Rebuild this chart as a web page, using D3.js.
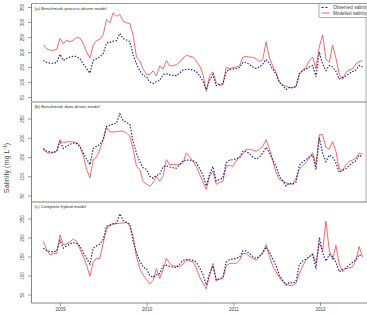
<!DOCTYPE html>
<html><head><meta charset="utf-8">
<script src="https://cdn.jsdelivr.net/npm/d3@7"></script>
<style>body{margin:0;background:#fff;}svg{display:block;font-family:"Liberation Sans",Arial,sans-serif;}</style>
</head><body>
<svg id="c" width="367" height="314"></svg>
<script>
// Biweekly sampling dates (category axis)
const startDate = "2008-10-23";
const stepDays = 14;
const yearTicks = ["2009", "2010", "2011", "2012"];

const observed = [172,165,163,162,165,192,172,178,183,186,185,177,160,145,130,172,178,183,195,230,232,236,238,262,245,240,235,190,160,138,122,118,100,95,102,105,125,127,124,122,121,
130,140,142,142,140,135,120,103,75,105,125,88,92,95,135,142,143,145,148,165,165,158,150,145,150,160,175,162,143,126,100,88,75,82,80,85,128,138,143,150,155,118,200,160,138,155,150,135,110,115,120,128,135,140,155,150];

const modelA = [225,211,206,206,208,245,228,240,234,240,248,247,228,200,180,223,238,242,257,308,297,331,319,325,302,297,295,257,183,171,143,126,125,137,120,154,143,171,154,154,158,
166,180,189,186,183,170,154,126,69,120,134,98,89,90,149,143,148,150,154,183,185,183,182,177,168,175,234,180,154,132,98,90,86,81,82,84,126,140,149,171,183,145,217,257,177,166,223,180,126,109,132,140,143,160,168,171];

const modelB = [170,161,160,161,165,195,187,189,190,189,188,178,152,118,96,143,150,170,195,228,215,215,216,217,217,212,204,170,126,118,87,80,74,83,100,87,100,143,130,131,130,
130,135,161,150,139,125,105,85,66,100,113,79,84,87,126,128,126,140,150,157,170,170,168,165,170,178,195,170,140,110,92,88,83,80,79,95,118,128,135,150,161,130,208,208,175,170,190,165,118,115,130,139,142,148,160,158];

const modelC = [190,167,154,158,158,207,181,183,188,196,190,170,150,127,98,136,145,145,185,221,234,236,236,238,238,240,230,203,150,118,101,90,78,87,118,92,115,145,132,125,125,
123,130,141,138,136,120,96,80,65,100,132,87,90,92,125,132,132,132,140,158,158,150,145,140,150,160,181,150,125,110,95,83,78,74,74,80,105,125,141,150,158,132,185,165,243,167,141,180,130,110,118,120,123,140,176,150];

const panelTitles = ["(a)  Benchmark process-driven model", "(b)  Benchmark data-driven model", "(c)  Complete hybrid model"];
const panelTicksA = [50,100,150,200,250,300,350];
const panelTicksBC = [50,100,150,200,250];
const legendLabels = ["Observed salinity (mg L\u207B\u00B9)", "Modelled salinity (mg L\u207B\u00B9)"];

const parse = d3.timeParse("%Y-%m-%d");
const dates = observed.map((_, i) => d3.timeDay.offset(parse(startDate), i * stepDays));

const svg = d3.select("#c");
const L = 31.5, R = 366;
const x = d3.scaleTime().domain([parse("2009-01-01"), parse("2012-01-01")]).range([60, 320]);

const panels = [
  {top: 3.5, bottom: 102, y: d3.scaleLinear().domain([50,350]).range([97,7]), ticks: panelTicksA, model: modelA},
  {top: 102, bottom: 202, y: d3.scaleLinear().domain([50,250]).range([195.5,118.5]), ticks: panelTicksBC, model: modelB},
  {top: 202, bottom: 303, y: d3.scaleLinear().domain([50,250]).range([294.5,218.5]), ticks: panelTicksBC, model: modelC}
];

const obsColor = "#1c1c8a", modColor = "#f2383a";

panels.forEach((p, k) => {
  const g = svg.append("g");
  // y axis
  const ax = g.append("g").attr("transform", `translate(${L},0)`)
    .call(d3.axisLeft(p.y).tickValues(p.ticks).tickSize(3.5).tickSizeOuter(0));
  ax.select(".domain").remove();
  ax.selectAll("line").attr("stroke", "#555").attr("stroke-width", 0.6);
  ax.selectAll("text").attr("font-size", 4.6).attr("fill", "#444")
    .attr("transform", "rotate(-90)")
    .attr("x", 0).attr("y", -9.5).attr("dy", "0.35em")
    .attr("text-anchor", "middle");
  // lines
  const line = d3.line().x((d, i) => x(dates[i])).y(d => p.y(d));
  g.append("path").datum(p.model).attr("d", line).attr("fill", "none")
    .attr("stroke", modColor).attr("stroke-width", 0.75);
  g.append("path").datum(observed).attr("d", line).attr("fill", "none")
    .attr("stroke", obsColor).attr("stroke-width", 1.2).attr("stroke-dasharray", "1.4,1.6");
  // title
  g.append("text").attr("x", 34.5).attr("y", p.top + 6.2).attr("font-size", 4.4).attr("fill", "#333").text(panelTitles[k]);
});

// frames
svg.append("line").attr("x1", L).attr("x2", L).attr("y1", 3.5).attr("y2", 303).attr("stroke", "#666").attr("stroke-width", 0.8);
svg.append("line").attr("x1", R).attr("x2", R).attr("y1", 3.5).attr("y2", 202).attr("stroke", "#999").attr("stroke-width", 0.8);
svg.append("line").attr("x1", L).attr("x2", R).attr("y1", 3.5).attr("y2", 3.5).attr("stroke", "#999").attr("stroke-width", 1);
[102, 202].forEach(yv => svg.append("line").attr("x1", L).attr("x2", 367).attr("y1", yv).attr("y2", yv).attr("stroke", "#aaa").attr("stroke-width", 1.6));
svg.append("line").attr("x1", L).attr("x2", 367).attr("y1", 303).attr("y2", 303).attr("stroke", "#666").attr("stroke-width", 0.8);

// x axis
const xa = svg.append("g").attr("transform", "translate(0,303)")
  .call(d3.axisBottom(x).tickValues(yearTicks.map(y => parse(y + "-01-01"))).tickFormat(d3.timeFormat("%Y")).tickSize(3).tickSizeOuter(0));
xa.select(".domain").remove();
xa.selectAll("line").attr("stroke", "#555").attr("stroke-width", 0.6);
xa.selectAll("text").attr("font-size", 4.6).attr("fill", "#444").attr("y", 5).attr("dy", "0.71em");

// y label
svg.append("text").attr("transform", "translate(9,168) rotate(-90)").attr("text-anchor", "middle")
  .attr("font-size", 7.2).attr("fill", "#444").text("Salinity (mg L\u207B\u00B9)");

// legend
const lg = svg.append("g");
lg.append("rect").attr("x", 319).attr("y", 3.5).attr("width", 60).attr("height", 14).attr("fill", "#fff").attr("stroke", "#777").attr("stroke-width", 0.6);
lg.append("line").attr("x1", 321.5).attr("x2", 329.5).attr("y1", 7.5).attr("y2", 7.5).attr("stroke", obsColor).attr("stroke-width", 1.2).attr("stroke-dasharray", "2,2");
lg.append("line").attr("x1", 321.5).attr("x2", 329.5).attr("y1", 13).attr("y2", 13).attr("stroke", modColor).attr("stroke-width", 0.8);
legendLabels.forEach((t, i) => lg.append("text").attr("x", 333).attr("y", 7.5 + i * 5.5).attr("dy", "0.35em").attr("font-size", 4.6).attr("fill", "#444").text(t));
</script>
</body></html>
